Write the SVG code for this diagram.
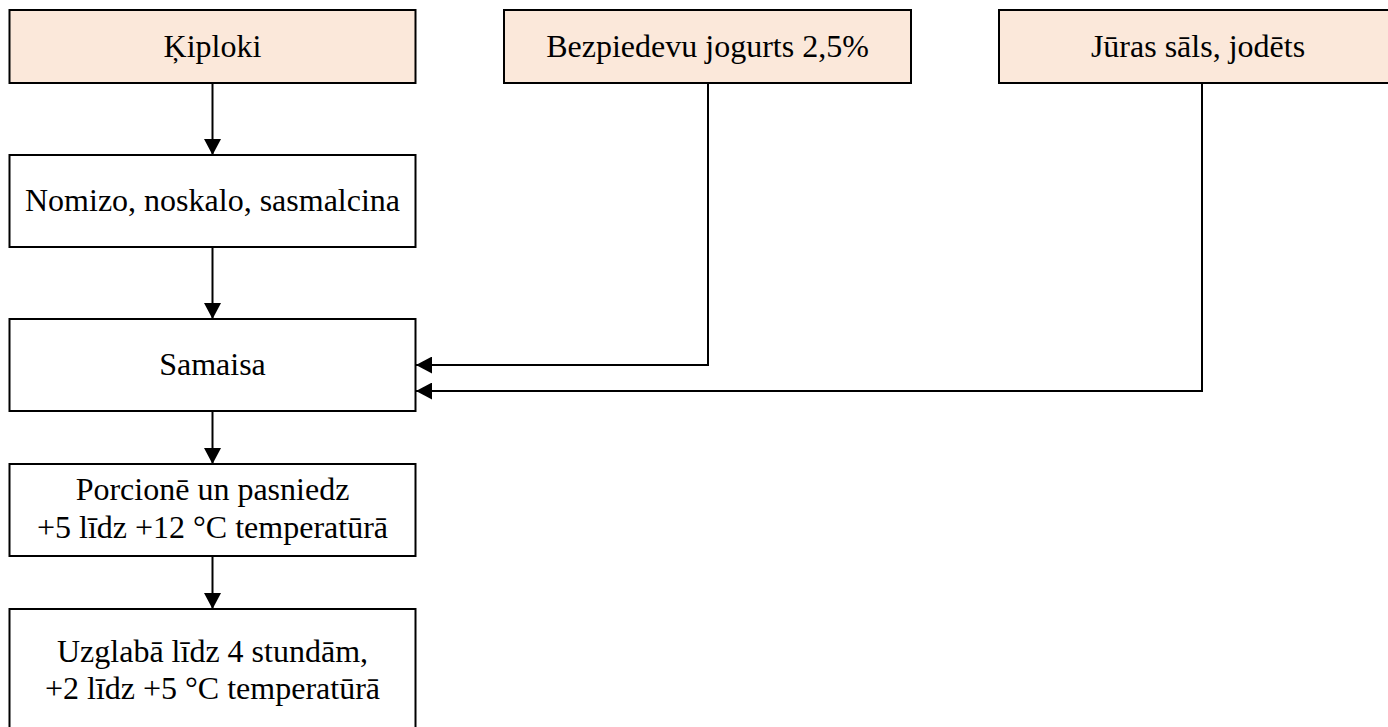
<svg xmlns="http://www.w3.org/2000/svg" width="1388" height="727" viewBox="0 0 1388 727">
<style>
.box{stroke:#000;stroke-width:2;fill:#fff}
.src{fill:#FBE8DA}
.t{font-family:"Liberation Serif","Times New Roman",serif;font-size:32px;fill:#000;text-anchor:middle}
.c{fill:none;stroke:#000;stroke-width:2}
</style>
<defs>
<marker id="ah" viewBox="0 0 16 17" refX="16" refY="8.5" markerWidth="16" markerHeight="17" markerUnits="userSpaceOnUse" orient="auto">
<path d="M0,0 L16,8.5 L0,17 Z" fill="#000"/>
</marker>
</defs>
<rect width="1388" height="727" fill="#fff"/>
<g id="connectors">
<path class="c" d="M212.5,83 V155" marker-end="url(#ah)"/>
<path class="c" d="M212.5,247 V319" marker-end="url(#ah)"/>
<path class="c" d="M708,83 V365 H416" marker-end="url(#ah)"/>
<path class="c" d="M1202,83 V391 H416" marker-end="url(#ah)"/>
<path class="c" d="M212.5,411 V464" marker-end="url(#ah)"/>
<path class="c" d="M212.5,556 V609" marker-end="url(#ah)"/>
</g>
<g id="n1"><rect class="box src" x="9.5" y="10" width="406" height="73"/><text class="t" x="212.5" y="57">Ķiploki</text></g>
<g id="n2"><rect class="box src" x="504" y="10" width="407" height="73"/><text class="t" x="707.5" y="57">Bezpiedevu jogurts 2,5%</text></g>
<g id="n3"><rect class="box src" x="999" y="10" width="407" height="73"/><text class="t" x="1198" y="57">Jūras sāls, jodēts</text></g>
<g id="n4"><rect class="box" x="9.5" y="155" width="406" height="92"/><text class="t" x="212.5" y="211">Nomizo, noskalo, sasmalcina</text></g>
<g id="n5"><rect class="box" x="9.5" y="319" width="406" height="92"/><text class="t" x="212.5" y="375">Samaisa</text></g>
<g id="n6"><rect class="box" x="9.5" y="464" width="406" height="92"/><text class="t" x="212.5" y="500">Porcionē un pasniedz</text><text class="t" x="212.5" y="538">+5 līdz +12 °C temperatūrā</text></g>
<g id="n7"><rect class="box" x="9.5" y="609" width="406" height="122"/><text class="t" x="212.5" y="662">Uzglabā līdz 4 stundām,</text><text class="t" x="212.5" y="699">+2 līdz +5 °C temperatūrā</text></g>
</svg>
